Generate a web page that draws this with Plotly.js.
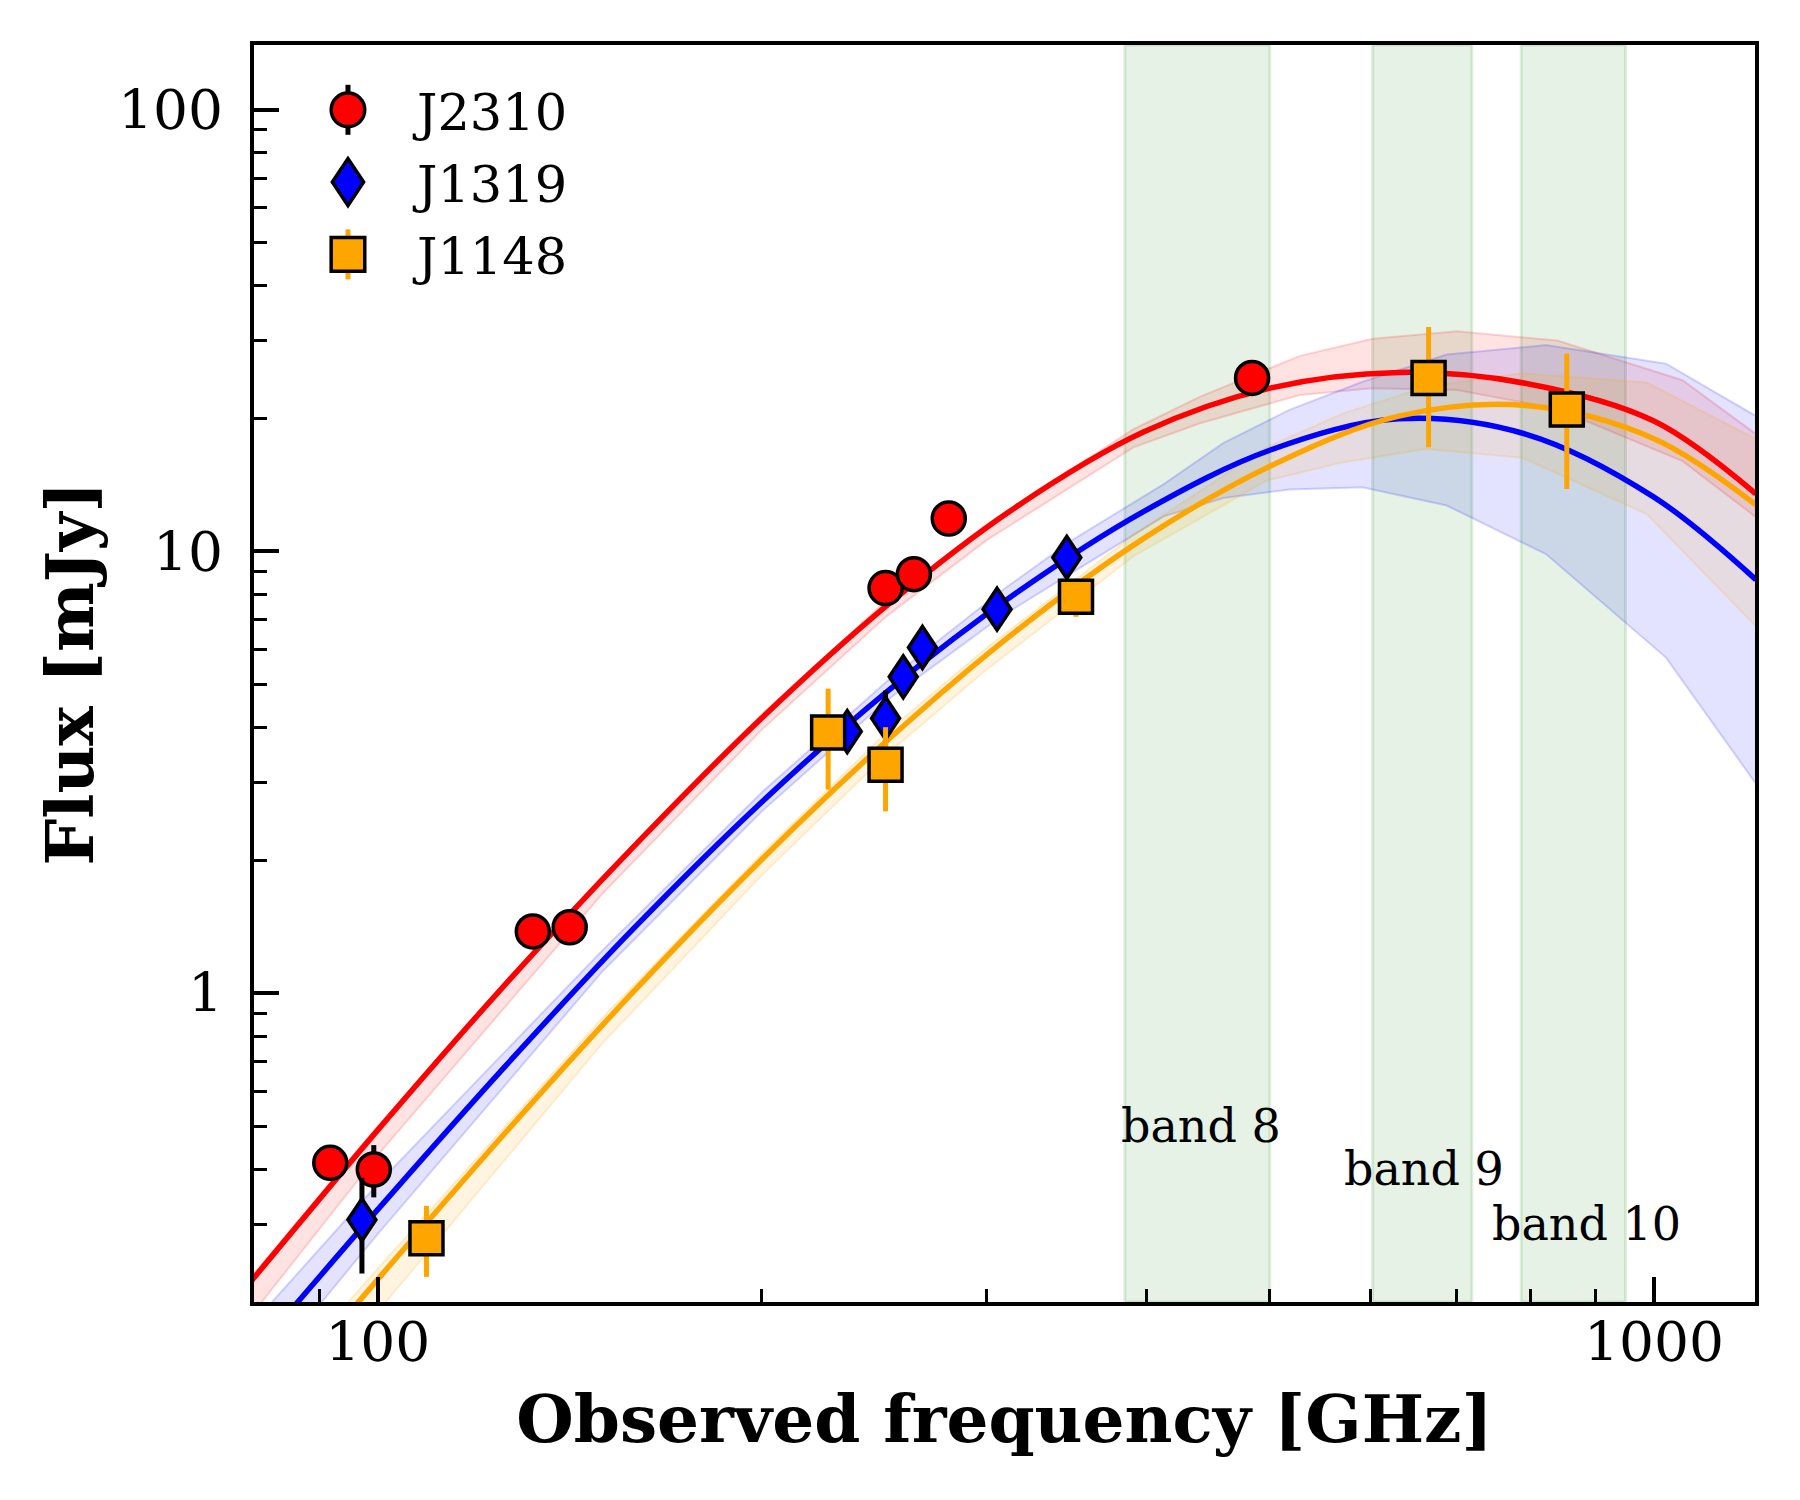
<!DOCTYPE html>
<html>
<head>
<meta charset="utf-8">
<script src="https://cdn.plot.ly/plotly-3.0.1.min.js"></script>
<style>html,body{margin:0;padding:0;background:#fff;}#chart{width:1800px;height:1500px;}</style>
</head>
<body>
<div id="chart"></div>
<script>
// ---------- observed photometry ----------
const j2310Freq = [91.8, 99.3, 132.3, 141.4, 250.0, 263.1, 280.2, 484.3];
const j2310Flux = [0.413, 0.399, 1.38, 1.41, 8.26, 8.88, 11.87, 24.7];
const j2310Err  = [0.03, 0.054, 0.06, 0.06, 0.5, 0.5, 0.6, 1.2];

const j1319Freq = [97.2, 233.3, 250.0, 258.1, 267.2, 305.7, 346.7];
const j1319Flux = [0.307, 3.91, 4.19, 5.20, 6.06, 7.40, 9.69];
const j1319Err  = [0.075, 0.3, 0.65, 0.3, 0.3, 0.4, 0.5];

const j1148Freq = [109.2, 225.4, 250.0, 352.5, 665.9, 854.5];
const j1148Flux = [0.279, 3.89, 3.29, 7.89, 24.7, 20.94];
const j1148Err  = [0.051, 1.0, 0.71, 0.78, 7.5, 7.1];

// ---------- best-fit SED curves ----------
const fitFreq = [79.43, 100, 125.9, 158.5, 199.5, 251.2, 316.2, 398.1, 501.2, 631.0, 794.3, 1000, 1202];
const redFitFlux    = [0.2213, 0.4898, 1.047, 2.138, 4.169, 7.586, 12.59, 18.62, 23.44, 25.41, 23.99, 19.72, 13.49];
const blueFitFlux   = [0.1496, 0.3236, 0.6839, 1.396, 2.692, 4.842, 8.035, 12.30, 16.98, 19.95, 18.41, 13.27, 8.63];
const orangeFitFlux = [0.1028, 0.2249, 0.4831, 1.005, 1.995, 3.750, 6.592, 10.69, 15.63, 20.23, 21.38, 17.99, 12.74];

// ---------- uncertainty envelopes ----------
const redBandFreq  = [80, 100, 150, 200, 250, 300, 391, 441, 528, 602, 701, 840, 1053, 1200];
const redBandUpper = [0.232, 0.50, 1.84, 4.28, 7.7, 11.5, 18.9, 22.4, 27.7, 30.3, 31.5, 30.0, 24.4, 18.5];
const redBandLower = [0.19, 0.43, 1.68, 3.95, 7.1, 10.6, 17.2, 19.5, 22.6, 23.4, 23.2, 21.0, 16.0, 12.0];

const blueBandFreq  = [80, 100, 150, 200, 250, 307.5, 350, 413, 460, 518, 591, 688, 823, 1022, 1200];
const blueBandUpper = [0.18, 0.37, 1.25, 2.85, 5.05, 8.1, 10.6, 14.2, 17.6, 20.9, 24.2, 27.9, 29.3, 26.6, 20.3];
const blueBandLower = [0.13, 0.285, 1.12, 2.58, 4.58, 7.1, 8.95, 12.0, 13.2, 13.8, 13.96, 12.7, 9.86, 5.75, 3.0];

const orangeBandFreq  = [90, 100, 150, 200, 250, 300, 391, 497, 570, 663, 788, 987, 1200];
const orangeBandUpper = [0.168, 0.238, 0.88, 2.07, 3.88, 6.05, 10.9, 17.2, 20.5, 23.6, 25.3, 24.1, 18.0];
const orangeBandLower = [0.13, 0.19, 0.77, 1.85, 3.45, 5.4, 9.75, 14.45, 15.9, 17.05, 16.3, 12.15, 6.8];

// ---------- ALMA bands ----------
const bandNames = ['band 8', 'band 9', 'band 10'];
const bandLow   = [385, 602, 787];
const bandHigh  = [500, 720, 950];

// ---------- axis ticks ----------
const xTickVals = [100, 1000];
const xTickText = ['100', '1000'];
const xMinorVals = [90, 200, 300, 400, 500, 600, 700, 800, 900];
const yTickVals = [1, 10, 100];
const yTickText = ['1', '10', '100'];
const yMinorVals = [0.2, 0.3, 0.4, 0.5, 0.6, 0.7, 0.8, 0.9, 2, 3, 4, 5, 6, 7, 8, 9, 20, 30, 40, 50, 60, 70, 80, 90];

const FONT = 'DejaVu Serif';

function band(freq, lower, upper, rgb, alpha) {
  const edge = 'rgba(' + rgb + ',' + (alpha + 0.05) + ')';
  return [
    {x: freq, y: lower, mode: 'lines', line: {color: edge, width: 2}, showlegend: false, hoverinfo: 'skip'},
    {x: freq, y: upper, mode: 'lines', line: {color: edge, width: 2}, fill: 'tonexty',
     fillcolor: 'rgba(' + rgb + ',' + alpha + ')', showlegend: false, hoverinfo: 'skip'}
  ];
}
function fitLine(freq, flux, color) {
  return {x: freq, y: flux, mode: 'lines', line: {color: color, width: 5.5, shape: 'spline', smoothing: 1},
          showlegend: false, hoverinfo: 'skip'};
}
function points(name, freq, flux, err, symbol, size, fill, ecolor) {
  return {x: freq, y: flux, name: name, mode: 'markers', legendgroup: name,
          marker: {symbol: symbol, size: size, color: fill, line: {color: 'black', width: 3.5}},
          error_y: {type: 'data', array: err, visible: true, color: ecolor, thickness: 5, width: 0}};
}

const data = [].concat(
  band(redBandFreq, redBandLower, redBandUpper, '255,0,0', 0.11),
  band(blueBandFreq, blueBandLower, blueBandUpper, '0,0,255', 0.11),
  band(orangeBandFreq, orangeBandLower, orangeBandUpper, '255,165,0', 0.12),
  [fitLine(fitFreq, redFitFlux, 'red'),
   fitLine(fitFreq, blueFitFlux, 'blue'),
   fitLine(fitFreq, orangeFitFlux, 'orange'),
   points('J2310', j2310Freq, j2310Flux, j2310Err, 'circle', 33, 'red', 'black'),
   points('J1319', j1319Freq, j1319Flux, j1319Err, 'diamond-tall', 30, 'blue', 'black'),
   points('J1148', j1148Freq, j1148Flux, j1148Err, 'square', 33, 'orange', 'orange')]
);
const DIAMOND_TRACE = data.length - 2;

const shapes = bandLow.map((lo, i) => ({
  type: 'rect', xref: 'x', yref: 'paper', x0: lo, x1: bandHigh[i], y0: 0, y1: 1,
  fillcolor: 'rgba(0,128,0,0.1)', line: {color: 'rgba(0,128,0,0.13)', width: 3}, layer: 'below'
}));

const labelX = [442, 661, 885];
const labelY = [0.5, 0.4, 0.3];
const annotations = bandNames.map((t, i) => ({
  text: t, x: Math.log10(labelX[i]), y: Math.log10(labelY[i]), xref: 'x', yref: 'y',
  showarrow: false, xanchor: 'center', yanchor: 'middle',
  font: {family: FONT, size: 46, color: 'black'}
}));

const axisCommon = {
  type: 'log', showgrid: false, zeroline: false, showline: true, linecolor: 'black', linewidth: 4,
  mirror: true, ticks: 'inside', ticklen: 25, tickwidth: 4, tickcolor: 'black',
  tickfont: {family: FONT, size: 55, color: 'black'}, automargin: false
};

const layout = {
  width: 1800, height: 1500,
  margin: {l: 254, r: 45, t: 45, b: 198, pad: 0},
  paper_bgcolor: 'white', plot_bgcolor: 'white',
  font: {family: FONT, color: 'black'},
  showlegend: true,
  legend: {x: 0.0686, y: 0.98, xanchor: 'left', yanchor: 'top', bgcolor: 'rgba(0,0,0,0)',
           font: {family: FONT, size: 51, color: 'black'}, tracegroupgap: 3, itemwidth: 50},
  xaxis: Object.assign({}, axisCommon, {
    range: [Math.log10(80), Math.log10(1200)],
    tickmode: 'array', tickvals: xTickVals, ticktext: xTickText, ticklabelstandoff: -11,
    minor: {tickmode: 'array', tickvals: xMinorVals, ticks: 'inside', ticklen: 13, tickwidth: 3, tickcolor: 'black'},
    title: {text: 'Observed frequency [GHz]', font: {family: FONT, size: 66, weight: 'bold', color: 'black'}, standoff: 24}
  }),
  yaxis: Object.assign({}, axisCommon, {
    range: [Math.log10(0.2), Math.log10(140)],
    tickmode: 'array', tickvals: yTickVals, ticktext: yTickText, ticklabelstandoff: 16,
    minor: {tickmode: 'array', tickvals: yMinorVals, ticks: 'inside', ticklen: 13, tickwidth: 3, tickcolor: 'black'},
    title: {text: 'Flux [mJy]', font: {family: FONT, size: 66, weight: 'bold', color: 'black'}, standoff: 4}
  }),
  shapes: shapes,
  annotations: annotations
};

const legendErrColor = {J2310: 'black', J1148: 'orange'};
const DIAMOND_STRETCH = 'scale(1.33,1)';

Plotly.newPlot('chart', data, layout, {staticPlot: true}).then(function () {
  const gd = document.getElementById('chart');
  // widen the thin diamonds (matplotlib-style 'd' marker)
  const traces = gd.querySelectorAll('.scatterlayer .trace');
  if (traces[DIAMOND_TRACE]) {
    traces[DIAMOND_TRACE].querySelectorAll('path.point').forEach(function (p) {
      p.setAttribute('transform', (p.getAttribute('transform') || '') + ' ' + DIAMOND_STRETCH);
      p.style.vectorEffect = 'non-scaling-stroke';
    });
  }
  // legend: no clipping, larger symbols, symbol further from text, error bars
  gd.querySelectorAll('.legend [clip-path]').forEach(function (el) { el.removeAttribute('clip-path'); });
  gd.querySelectorAll('.legend .traces').forEach(function (g) {
    const txt = g.querySelector('text.legendtext');
    const name = txt ? txt.textContent : '';
    g.querySelectorAll('.legendpoints path.scatterpts').forEach(function (p) {
      const t = p.getAttribute('transform') || '';
      const m = /translate\(\s*([-\d.]+)[ ,]+([-\d.]+)\s*\)/.exec(t);
      const tx = m ? parseFloat(m[1]) : 20, ty = m ? parseFloat(m[2]) : 0;
      const nt = 'translate(' + (tx - 39) + ',' + ty + ')';
      const sc = name === 'J1319' ? 'scale(' + (2.1 * 1.33) + ',2.1)' : 'scale(2.1)';
      p.setAttribute('transform', nt + ' ' + sc);
      p.style.vectorEffect = 'non-scaling-stroke';
      p.style.strokeWidth = '3.5px';
      if (legendErrColor[name]) {
        const bar = document.createElementNS('http://www.w3.org/2000/svg', 'path');
        bar.setAttribute('d', 'M0,-25V25');
        bar.setAttribute('transform', nt);
        bar.style.stroke = legendErrColor[name];
        bar.style.strokeWidth = '5px';
        bar.style.fill = 'none';
        p.parentNode.insertBefore(bar, p);
      }
    });
  });
});
</script>
</body>
</html>
